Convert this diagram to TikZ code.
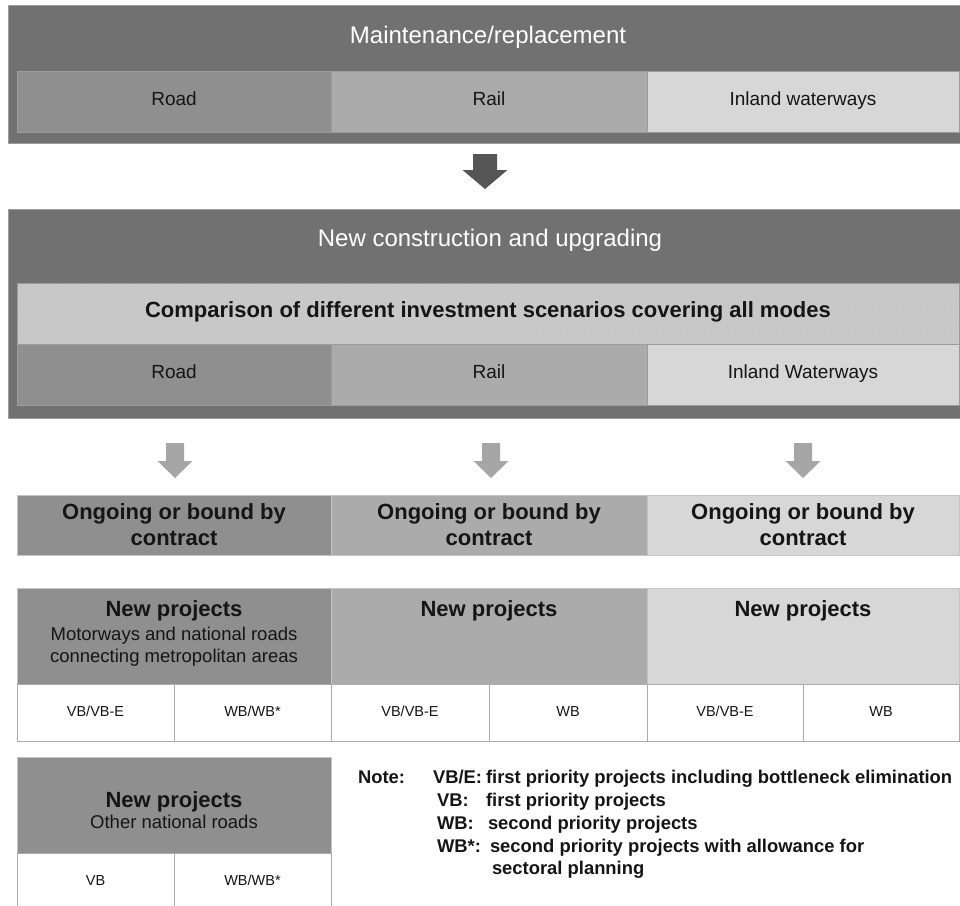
\documentclass[tikz,border=0pt]{standalone}
\usepackage{fontspec}
\setmainfont{Liberation Sans}
\usetikzlibrary{patterns}
\definecolor{cdark}{HTML}{717171}
\definecolor{croad}{HTML}{8F8F8F}
\definecolor{crail}{HTML}{ABABAB}
\definecolor{cinland}{HTML}{D7D7D7}
\definecolor{chatch}{HTML}{CECECE}
\definecolor{chatchline}{HTML}{BDBDBD}
\definecolor{cborder}{HTML}{9C9C9C}
\definecolor{clightborder}{HTML}{C4C4C4}
\definecolor{cwhiteborder}{HTML}{ABABAB}
\definecolor{cdarkarrow}{HTML}{555555}
\definecolor{clightarrow}{HTML}{A6A6A6}
\definecolor{ctext}{HTML}{151515}
\begin{document}
\begin{tikzpicture}[x=1pt,y=-1pt,
  every node/.style={inner sep=0pt, outer sep=0pt, text=ctext},
  outerbox/.style={draw=cborder, line width=0.8pt, fill=cdark},
  cell/.style={draw=cborder, line width=0.8pt, text height=0.72em, text depth=0pt},
  ongo/.style={draw=clightborder, line width=0.8pt, align=center,
     font=\fontsize{22}{26}\selectfont\bfseries, minimum height=60pt},
  newbox/.style={draw=clightborder, line width=0.8pt},
  wcell/.style={draw=cwhiteborder, line width=0.8pt, fill=white, minimum height=57pt,
     minimum width=157pt, text height=0.72em, text depth=0pt, font=\fontsize{14.5}{17}\selectfont},
  titletext/.style={text=white, font=\fontsize{24}{28}\selectfont, anchor=base},
  celltext/.style={font=\fontsize{19}{22}\selectfont},
  boldlab/.style={anchor=base, font=\fontsize{22}{26}\selectfont\bfseries},
  sublab/.style={anchor=base, font=\fontsize{18.5}{22}\selectfont},
  notelab/.style={anchor=base west, font=\fontsize{18.4}{22}\selectfont\bfseries},
  darkarrow/.style={fill=cdarkarrow},
  lightarrow/.style={fill=clightarrow}
]
\useasboundingbox (0,0) rectangle (960,905);
\clip (0,0) rectangle (960,905);

% ---------- Maintenance / replacement ----------
\node[outerbox, minimum width=957pt, minimum height=138pt] (maint) at (486.5,74) {};
\node[titletext] (maint-t) at (488,43) {Maintenance/replacement};
\node[cell, celltext, fill=croad, minimum width=314pt, minimum height=61pt] (m-road) at (174,101.5) {Road};
\node[cell, celltext, fill=crail, minimum width=316pt, minimum height=61pt] (m-rail) at (489,101.5) {Rail};
\node[cell, celltext, fill=cinland, minimum width=312pt, minimum height=61pt] (m-inland) at (803,101.5) {Inland waterways};

% dark block arrow
\coordinate (da) at (485,154);
\fill[darkarrow] (da) ++(-12,0) -- ++(24,0) -- ++(0,16) -- ++(10.5,0) -- ++(-22.5,19)
  -- ++(-22.5,-19) -- ++(10.5,0) -- cycle;

% ---------- New construction and upgrading ----------
\node[outerbox, minimum width=957pt, minimum height=209pt] (newc) at (486.5,313.5) {};
\node[titletext] (newc-t) at (490,246) {New construction and upgrading};
\node[draw=cborder, line width=0.8pt, fill=chatch, minimum width=942pt, minimum height=61pt] (comp) at (488,313.5) {};
\fill[pattern=north east lines, pattern color=chatchline] (comp.south west) rectangle (comp.north east);
\draw[draw=cborder, line width=0.8pt] (comp.south west) rectangle (comp.north east);
\node[font=\fontsize{22}{26}\selectfont\bfseries, text height=0.72em, text depth=0pt] (comp-t) at (comp.center) {Comparison of different investment scenarios covering all modes};
\node[cell, celltext, fill=croad, minimum width=314pt, minimum height=61pt] (n-road) at (174,374.5) {Road};
\node[cell, celltext, fill=crail, minimum width=316pt, minimum height=61pt] (n-rail) at (489,374.5) {Rail};
\node[cell, celltext, fill=cinland, minimum width=312pt, minimum height=61pt] (n-inland) at (803,374.5) {Inland Waterways};

% light block arrows
\foreach \n/\xx in {la1/175, la2/491, la3/803} {
  \coordinate (\n) at (\xx,443);
  \fill[lightarrow] (\n) ++(-9,0) -- ++(18,0) -- ++(0,18) -- ++(8.5,0) -- ++(-17.5,17)
    -- ++(-17.5,-17) -- ++(8.5,0) -- cycle;
}

% ---------- Ongoing or bound by contract ----------
\node[ongo, fill=croad, minimum width=314pt] (og1) at (174,525) {Ongoing or bound by\\contract};
\node[ongo, fill=crail, minimum width=316pt] (og2) at (489,525) {Ongoing or bound by\\contract};
\node[ongo, fill=cinland, minimum width=312pt] (og3) at (803,525) {Ongoing or bound by\\contract};

% ---------- New projects ----------
\node[newbox, fill=croad, minimum width=314pt, minimum height=96pt] (np1) at (174,636) {};
\node[newbox, fill=crail, minimum width=316pt, minimum height=96pt] (np2) at (489,636) {};
\node[newbox, fill=cinland, minimum width=312pt, minimum height=96pt] (np3) at (803,636) {};
\node[boldlab] (np1-t) at (174,616) {New projects};
\node[sublab] (np1-s1) at (174,640) {Motorways and national roads};
\node[sublab] (np1-s2) at (174,662) {connecting metropolitan areas};
\node[boldlab] (np2-t) at (489,616) {New projects};
\node[boldlab] (np3-t) at (803,616) {New projects};

\node[wcell] (c1) at (95.5,712.5) {VB/VB-E};
\node[wcell] (c2) at (252.5,712.5) {WB/WB*};
\node[wcell, minimum width=158pt] (c3) at (410,712.5) {VB/VB-E};
\node[wcell, minimum width=158pt] (c4) at (568,712.5) {WB};
\node[wcell, minimum width=156pt] (c5) at (725,712.5) {VB/VB-E};
\node[wcell, minimum width=156pt] (c6) at (881,712.5) {WB};

% ---------- Other national roads ----------
\node[newbox, fill=croad, minimum width=314pt, minimum height=96pt] (np4) at (174,805) {};
\node[boldlab] (np4-t) at (174,807) {New projects};
\node[sublab] (np4-s) at (174,828) {Other national roads};
\node[wcell] (c7) at (95.5,881.5) {VB};
\node[wcell] (c8) at (252.5,881.5) {WB/WB*};

% ---------- Note ----------
\node[notelab] (note) at (358,783) {Note:};
\node[notelab] (k1) at (433,783) {VB/E:};
\node[notelab] (k2) at (437,806) {VB:};
\node[notelab] (k3) at (437,829) {WB:};
\node[notelab] (k4) at (437,852) {WB*:};
\node[notelab] (d1) at (486,783) {first priority projects including bottleneck elimination};
\node[notelab] (d2) at (486,806) {first priority projects};
\node[notelab] (d3) at (488,829) {second priority projects};
\node[notelab] (d4) at (490,852) {second priority projects with allowance for};
\node[notelab] (d5) at (492,874) {sectoral planning};
\end{tikzpicture}
\end{document}
